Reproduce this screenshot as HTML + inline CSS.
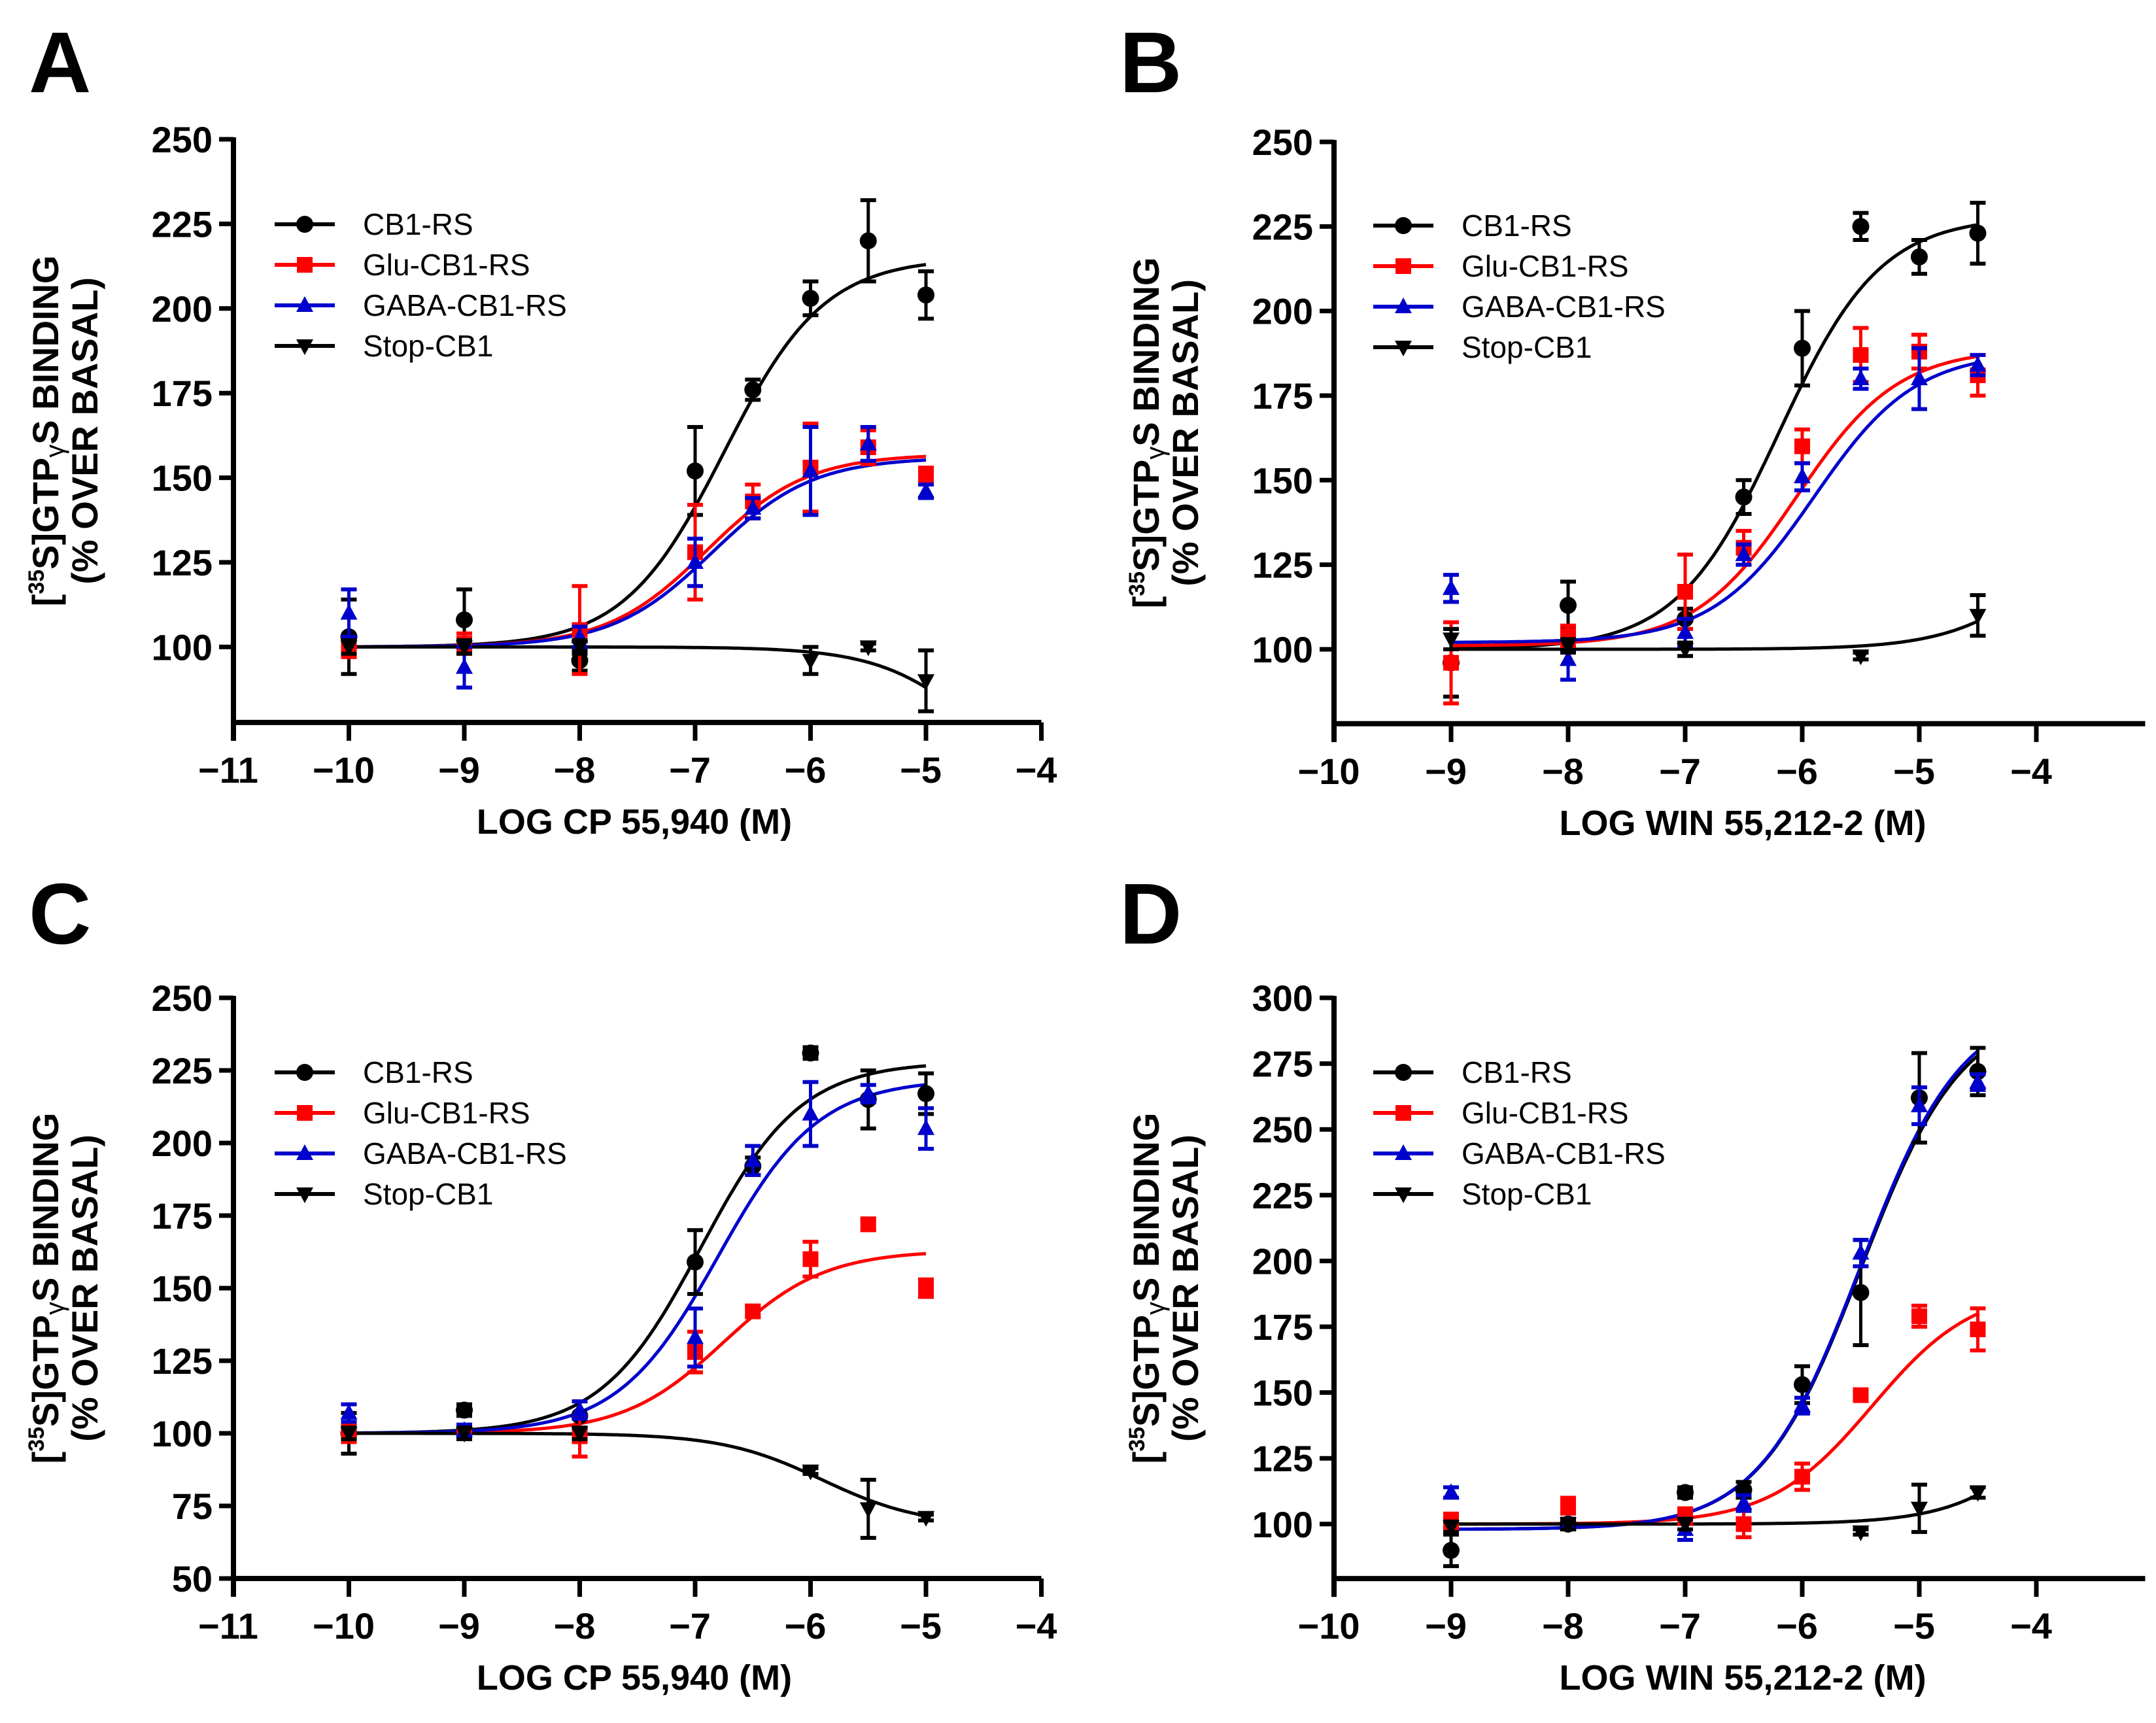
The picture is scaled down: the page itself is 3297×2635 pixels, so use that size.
<!DOCTYPE html>
<html><head><meta charset="utf-8"><style>
html,body{margin:0;padding:0;background:#fff;}
svg{display:block;font-family:"Liberation Sans",sans-serif;}
</style></head><body>
<svg id="fig" width="3297" height="2635" viewBox="0 0 3297 2635" xmlns="http://www.w3.org/2000/svg"></svg>
<script>
// ---------- DATA ----------
const seriesNames = ["CB1-RS","Glu-CB1-RS","GABA-CB1-RS","Stop-CB1"];
// Panel A (CP 55,940)
const aX = [-10,-9,-8,-7,-6.5,-6,-5.5,-5];
const aCB1 = [103,108,96,152,176,203,220,204];
const aCB1Err = [11,9,3,13,3,5,12,7];
const aGlu = [100,101,105,128,143,153,159,151];
const aGluErr = [3,3,13,14,5,13,5,2];
const aGABA = [110,94,103,125,141,152,160,146];
const aGABAErr = [7,6,3,7,3,13,5,2];
const aStopX = [-10,-9,-8,-6,-5.5,-5];
const aStop = [100,100,100,96,100,90];
const aStopErr = [2,2,2,4,1,9];
const aFits = [[100,215,-6.75,1],[100,157,-6.9,1],[100,156,-6.85,1],[100,50,-4.5,1]];
// Panel B (WIN 55,212-2)
const bX = [-9,-8,-7,-6.5,-6,-5.5,-5,-4.5];
const bCB1 = [96,113,109,145,189,225,216,223];
const bCB1Err = [10,7,3,5,11,4,5,9];
const bGlu = [96,104,117,130,160,187,188,181];
const bGluErr = [12,3,11,5,5,8,5,6];
const bGABA = [118,97,105,128,151,180,180,184];
const bGABAErr = [4,6,4,3,4,3,9,3];
const bStopX = [-9,-8,-7,-5.5,-4.5];
const bStop = [103,101,100,98,110];
const bStopErr = [3,2,2,1,6];
const bFits = [[100,228,-6.2,1],[101,189,-6.05,1],[102,188,-5.9,1],[100,150,-3.8,1]];
// Panel C (CP 55,940)
const cX = [-10,-9,-8,-7,-6.5,-6,-5.5,-5];
const cCB1 = [100,108,106,159,192,231,215,217];
const cCB1Err = [7,2,5,11,3,2,10,7];
const cGlu = [100,100,99,128,142,160,172,150];
const cGluErr = [3,2,7,7,2,6,2,3];
const cGABA = [107,101,108,133,194,210,217,205];
const cGABAErr = [3,2,3,10,5,11,3,7];
const cStopX = [-10,-9,-8,-6,-5.5,-5];
const cStop = [100,100,100,87,74,71];
const cStopErr = [2,2,2,1,10,1];
const cFits = [[100,228,-6.95,1],[100,163,-6.75,1],[100,222,-6.8,1],[100,68,-5.9,1]];
// Panel D (WIN 55,212-2)
const dX = [-9,-8,-7,-6.5,-6,-5.5,-5,-4.5];
const dCB1 = [90,100,112,113,153,188,262,272];
const dCB1Err = [6,2,2,3,7,20,17,9];
const dGlu = [101,107,103,100,118,149,179,174];
const dGluErr = [3,3,3,5,5,2,4,8];
const dGABA = [112,100,98,108,145,203,259,268];
const dGABAErr = [2,2,4,3,3,5,7,3];
const dStopX = [-9,-8,-7,-5.5,-5,-4.5];
const dStop = [99,100,100,97,106,112];
const dStopErr = [2,2,2,1,9,2];
const dFits = [[98,296,-5.5,1],[100,190,-5.4,1],[98,298,-5.5,1],[100,200,-3.6,1]];
const yTicksA = [100,125,150,175,200,225,250];
const yTicksC = [50,75,100,125,150,175,200,225,250];
const yTicksD = [100,125,150,175,200,225,250,275,300];
const xTicksCP = [-11,-10,-9,-8,-7,-6,-5,-4];
const xTicksWIN = [-10,-9,-8,-7,-6,-5,-4];

// ---------- DRAW ----------
const NS="http://www.w3.org/2000/svg";
const svg=document.getElementById('fig');
function mk(tag,attrs,parent){const e=document.createElementNS(NS,tag);for(const k in attrs)e.setAttribute(k,attrs[k]);(parent||svg).appendChild(e);return e;}
const colors=["#000000","#ff0000","#0000cc","#000000"];
const markers=["circle","square","triangle","tridown"];

function marker(g,type,cx,cy,col){
  let e;
  if(type==="circle"){e=mk('circle',{cx:cx,cy:cy,r:13,fill:col},g);}
  else if(type==="square"){e=mk('rect',{x:cx-12,y:cy-12,width:24,height:24,fill:col},g);}
  else if(type==="triangle"){e=mk('polygon',{points:`${cx},${cy-14} ${cx+13},${cy+10} ${cx-13},${cy+10}`,fill:col},g);}
  else {e=mk('polygon',{points:`${cx},${cy+14} ${cx+13},${cy-10} ${cx-13},${cy-10}`,fill:col},g);}
  return e;
}

function panel(p){
  const g=mk('g',{});
  
  
  const sx=v=>p.x0+(v-p.xmin)*p.xs;
  const sy=v=>p.y0-(v-p.ytop)*p.ys;
  const yBot=sy(p.ymin), yTopPx=sy(p.ytop), xRight=sx(p.xmax);
  const lbl=mk('text',{x:p.lx,y:p.ly,'font-size':132,'font-weight':'bold',fill:'#000'},g);
  lbl.textContent=p.id;
  
  
  const ya=mk('line',{x1:p.x0,y1:yTopPx-3,x2:p.x0,y2:yBot+28,stroke:'#000','stroke-width':8},g);
  
  
  const xa=mk('line',{x1:p.x0-4,y1:yBot,x2:xRight,y2:yBot,stroke:'#000','stroke-width':8},g);
  
  
  p.yticks.forEach(t=>{
    const y=sy(t);
    mk('line',{x1:p.x0-22,y1:y,x2:p.x0,y2:y,stroke:'#000','stroke-width':7},g);
    const tx=mk('text',{x:p.x0-32,y:y+20,'font-size':56,'font-weight':'bold','text-anchor':'end',fill:'#000'},g);
    tx.textContent=t;
    
    
  });
  p.xticks.forEach(t=>{
    const x=sx(t);
    mk('line',{x1:x,y1:yBot,x2:x,y2:yBot+28,stroke:'#000','stroke-width':7},g);
    const tx=mk('text',{x:x-8,y:yBot+92,'font-size':56,'font-weight':'bold','text-anchor':'middle',fill:'#000'},g);
    tx.textContent='\u2212'+Math.abs(t);
    
    
  });
  const xt=mk('text',{x:p.xtx,y:yBot+170,'font-size':54,'font-weight':'bold','text-anchor':'middle',fill:'#000'},g);
  xt.textContent=p.xtitle;
  
  
  const cy=(yTopPx+yBot)/2;
  const yt=mk('text',{transform:`translate(${p.x0-268},${cy}) rotate(-90)`,'font-size':56,'font-weight':'bold','text-anchor':'middle',fill:'#000'},g);
  
  
  const t1=mk('tspan',{x:0,dy:0},yt);
  t1.textContent='[';
  const t2=mk('tspan',{'font-size':34,dy:-22},yt);t2.textContent='35';
  const t3=mk('tspan',{dy:22},yt);t3.textContent='S]GTP';
  const t4=mk('tspan',{'font-size':40,'font-weight':'normal',dy:8},yt);t4.textContent='\u03b3';
  const t5=mk('tspan',{dy:-8},yt);t5.textContent='S BINDING';
  const t6=mk('tspan',{x:0,dy:60},yt);t6.textContent='(% OVER BASAL)';
  p.fits.forEach((f,i)=>{
    let d='';const x1=p.cx0,x2=p.cx1;
    for(let k=0;k<=200;k++){const xv=x1+(x2-x1)*k/200;const yv=f[0]+(f[1]-f[0])/(1+Math.pow(10,(f[2]-xv)*f[3]));d+=(k?'L':'M')+sx(xv).toFixed(1)+','+sy(yv).toFixed(1);}
    const c=mk('path',{d:d,fill:'none',stroke:colors[i],'stroke-width':5},g);
    
    
  });
  p.series.forEach((s,i)=>{
    const sg=mk('g',{},g);
    
    
    s.x.forEach((xv,k)=>{
      const X=sx(xv),Y=sy(s.y[k]),e=s.e[k];
      mk('line',{x1:X,y1:sy(s.y[k]+e),x2:X,y2:sy(s.y[k]-e),stroke:colors[i],'stroke-width':5},sg);
      mk('line',{x1:X-12,y1:sy(s.y[k]+e),x2:X+12,y2:sy(s.y[k]+e),stroke:colors[i],'stroke-width':6},sg);
      mk('line',{x1:X-12,y1:sy(s.y[k]-e),x2:X+12,y2:sy(s.y[k]-e),stroke:colors[i],'stroke-width':6},sg);
      const m=marker(sg,markers[i],X,Y,colors[i]);
      
      
    });
  });
  seriesNames.forEach((n,i)=>{
    const lg=mk('g',{},g);
    
    
    const y=p.legY+i*62;
    mk('line',{x1:p.legX,y1:y,x2:p.legX+92,y2:y,stroke:colors[i],'stroke-width':6},lg);
    marker(lg,markers[i],p.legX+46,y,colors[i]);
    const t=mk('text',{x:p.legX+135,y:y+16,'font-size':46,fill:'#000'},lg);
    t.textContent=n;
  });
}

panel({id:'A',lx:44,ly:141,x0:357,xmin:-11,xmax:-4,xs:176.5,y0:213,ytop:250,ys:5.176,ymin:77.7,
  yticks:yTicksA,xticks:xTicksCP,xtitle:'LOG CP 55,940 (M)',xtx:970,cx0:-10,cx1:-5,fits:aFits,legX:420,legY:343,
  series:[{x:aX,y:aCB1,e:aCB1Err},{x:aX,y:aGlu,e:aGluErr},{x:aX,y:aGABA,e:aGABAErr},{x:aStopX,y:aStop,e:aStopErr}]});
panel({id:'B',lx:1712,ly:141,x0:2040,xmin:-10,xmax:-3.07,xs:179,y0:217,ytop:250,ys:5.173,ymin:78,
  yticks:yTicksA,xticks:xTicksWIN,xtitle:'LOG WIN 55,212-2 (M)',xtx:2665,cx0:-9,cx1:-4.5,fits:bFits,legX:2100,legY:345,
  series:[{x:bX,y:bCB1,e:bCB1Err},{x:bX,y:bGlu,e:bGluErr},{x:bX,y:bGABA,e:bGABAErr},{x:bStopX,y:bStop,e:bStopErr}]});
panel({id:'C',lx:44,ly:1443,x0:357,xmin:-11,xmax:-4,xs:176.5,y0:1526,ytop:250,ys:4.44,ymin:50,
  yticks:yTicksC,xticks:xTicksCP,xtitle:'LOG CP 55,940 (M)',xtx:970,cx0:-10,cx1:-5,fits:cFits,legX:420,legY:1640,
  series:[{x:cX,y:cCB1,e:cCB1Err},{x:cX,y:cGlu,e:cGluErr},{x:cX,y:cGABA,e:cGABAErr},{x:cStopX,y:cStop,e:cStopErr}]});
panel({id:'D',lx:1712,ly:1443,x0:2040,xmin:-10,xmax:-3.07,xs:179,y0:1526,ytop:300,ys:4.024,ymin:79.3,
  yticks:yTicksD,xticks:xTicksWIN,xtitle:'LOG WIN 55,212-2 (M)',xtx:2665,cx0:-9,cx1:-4.5,fits:dFits,legX:2100,legY:1640,
  series:[{x:dX,y:dCB1,e:dCB1Err},{x:dX,y:dGlu,e:dGluErr},{x:dX,y:dGABA,e:dGABAErr},{x:dStopX,y:dStop,e:dStopErr}]});
</script>
</body></html>
